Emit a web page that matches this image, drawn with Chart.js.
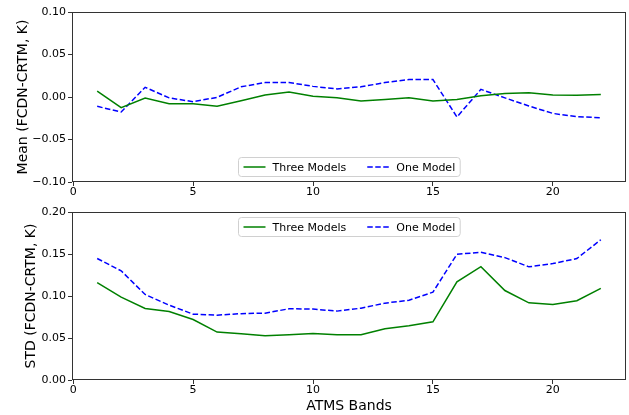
<!DOCTYPE html>
<html>
<head>
<meta charset="utf-8">
<script src="https://cdn.jsdelivr.net/npm/chart.js@4.4.1/dist/chart.umd.min.js"></script>
<style>
  body { margin: 0; background: #fff; }
  #wrap { position: relative; width: 629px; height: 415px; }
  #wrap div { position: absolute; left: 0; width: 629px; }
</style>
</head>
<body>
<div id="wrap">
  <div style="top:0;height:200px"><canvas id="meanChart" width="629" height="200"></canvas></div>
  <div style="top:200px;height:215px"><canvas id="stdChart" width="629" height="215"></canvas></div>
</div>
<script>
// values
const bands = [1, 2, 3, 4, 5, 6, 7, 8, 9, 10, 11, 12, 13, 14, 15, 16, 17, 18, 19, 20, 21, 22];
const meanThree = [0.007, -0.0126, -0.0012, -0.0079, -0.0079, -0.011, -0.0043, 0.0024, 0.0059, 0.001, -0.001,
    -0.0047, -0.003, -0.001, -0.0047, -0.003, 0.0016, 0.004, 0.005, 0.0024, 0.002, 0.003];
const meanOne = [-0.011, -0.0177, 0.0114, -0.001, -0.0055, -0.0004, 0.012, 0.017, 0.017, 0.0125, 0.0095,
    0.012, 0.017, 0.0205, 0.0205, -0.0235, 0.009, -0.001, -0.0106, -0.0193, -0.0232, -0.0244];
const stdThree = [0.116, 0.0986, 0.0851, 0.0816, 0.072, 0.057, 0.055, 0.0527, 0.054, 0.0554, 0.054,
    0.054, 0.061, 0.0646, 0.0693, 0.1168, 0.135, 0.1065, 0.0919, 0.0899, 0.0943, 0.109];
const stdOne = [0.1446, 0.130, 0.1018, 0.0891, 0.0784, 0.0772, 0.079, 0.0796, 0.0848, 0.0844, 0.082,
    0.0855, 0.0915, 0.095, 0.1046, 0.1497, 0.152, 0.1457, 0.1347, 0.1386, 0.1446, 0.167];
const xTicks = [0, 5, 10, 15, 20];
const meanTicks = [-0.10, -0.05, 0.00, 0.05, 0.10];
const stdTicks = [0.00, 0.05, 0.10, 0.15, 0.20];
const seriesNames = ['Three Models', 'One Model'];

const FONT = 'DejaVu Sans';

function fmt(v) {
    if (Math.abs(v) < 1e-9) v = 0;
    return v.toFixed(2).replace('-', '\u2212');
}

// box round the plot area
const framePlugin = {
    id: 'frame',
    afterDatasetsDraw(chart) {
        const a = chart.chartArea, ctx = chart.ctx;
        ctx.save();
        ctx.strokeStyle = '#333';
        ctx.lineWidth = 1;
        ctx.strokeRect(Math.round(a.left) + 0.5, Math.round(a.top) + 0.5,
            Math.round(a.right - a.left) - 1, Math.round(a.bottom - a.top) - 1);
        ctx.restore();
    }
};

// matplotlib style legend inside the plot
const boxLegend = {
    id: 'boxLegend',
    afterDraw(chart, args, opts) {
        const ctx = chart.ctx, a = chart.chartArea;
        ctx.save();
        ctx.font = '11px "' + FONT + '"';
        const items = chart.data.datasets;
        const lineLen = 22, pad = 5, gap = 7, spacing = 21;
        let w = pad;
        items.forEach((d, i) => {
            w += lineLen + gap + ctx.measureText(d.label).width;
            if (i < items.length - 1) w += spacing;
        });
        w += pad;
        const h = 19;
        const left = Math.round((a.left + a.right) / 2 - w / 2) + 0.5;
        const top = Math.round(opts.where === 'bottom' ? a.bottom - 25 : a.top + 5) + 0.5;
        ctx.fillStyle = 'rgba(255,255,255,0.8)';
        ctx.strokeStyle = '#d0d0d0';
        ctx.lineWidth = 1;
        ctx.beginPath();
        ctx.roundRect(left, top, w, h, 3);
        ctx.fill();
        ctx.stroke();
        let x = left + pad;
        const cy = top + h / 2;
        items.forEach(d => {
            ctx.strokeStyle = d.borderColor;
            ctx.lineWidth = d.borderWidth;
            ctx.setLineDash(d.borderDash || []);
            ctx.beginPath();
            ctx.moveTo(x, cy);
            ctx.lineTo(x + lineLen, cy);
            ctx.stroke();
            ctx.setLineDash([]);
            x += lineLen + gap;
            ctx.fillStyle = '#000';
            ctx.textBaseline = 'middle';
            ctx.fillText(d.label, x, cy + 1);
            x += ctx.measureText(d.label).width + spacing;
        });
        ctx.restore();
    }
};

function makeChart(id, three, one, yTicks, yTitle, xTitle, legendWhere, xHeight, titlePad) {
    const ctx = document.getElementById(id);
    return new Chart(ctx, {
        type: 'line',
        data: {
            datasets: [{
                label: seriesNames[0],
                data: bands.map((b, i) => ({ x: b, y: three[i] })),
                borderColor: '#008000',
                borderWidth: 1.5,
                pointRadius: 0,
                tension: 0
            }, {
                label: seriesNames[1],
                data: bands.map((b, i) => ({ x: b, y: one[i] })),
                borderColor: '#0000ff',
                borderWidth: 1.5,
                borderDash: [5.5, 2.5],
                pointRadius: 0,
                tension: 0
            }]
        },
        options: {
            responsive: false,
            animation: false,
            devicePixelRatio: 1,
            layout: { padding: { left: 0, right: 3, top: 12, bottom: 0 } },
            plugins: {
                legend: { display: false },
                tooltip: { enabled: false },
                boxLegend: { where: legendWhere }
            },
            scales: {
                x: {
                    type: 'linear',
                    min: -0.05,
                    max: 23.05,
                    afterBuildTicks: s => { s.ticks = xTicks.map(v => ({ value: v })); },
                    afterFit: s => { s.height = xHeight; },
                    border: { display: false },
                    grid: { drawOnChartArea: false, drawTicks: true, tickLength: 4, color: '#333' },
                    ticks: { color: '#000', padding: 0, maxRotation: 0, font: { family: FONT, size: 11 } },
                    title: {
                        display: !!xTitle,
                        text: xTitle,
                        color: '#000',
                        padding: { top: 0, bottom: 0 },
                        font: { family: FONT, size: 14 }
                    }
                },
                y: {
                    min: yTicks[0],
                    max: yTicks[yTicks.length - 1],
                    afterBuildTicks: s => { s.ticks = yTicks.map(v => ({ value: v })); },
                    afterFit: s => { s.width = 72; },
                    border: { display: false },
                    grid: { drawOnChartArea: false, drawTicks: true, tickLength: 4, color: '#333' },
                    ticks: { color: '#000', padding: 2, callback: v => fmt(v), font: { family: FONT, size: 11 } },
                    title: {
                        display: true,
                        text: yTitle,
                        color: '#000',
                        padding: { top: titlePad, bottom: 0 },
                        font: { family: FONT, size: 14 }
                    }
                }
            }
        },
        plugins: [framePlugin, boxLegend]
    });
}

makeChart('meanChart', meanThree, meanOne, meanTicks, 'Mean (FCDN-CRTM, K)', '', 'bottom', 18, 15);
makeChart('stdChart', stdThree, stdOne, stdTicks, 'STD (FCDN-CRTM, K)', 'ATMS Bands', 'top', 35, 23);
</script>
</body>
</html>
